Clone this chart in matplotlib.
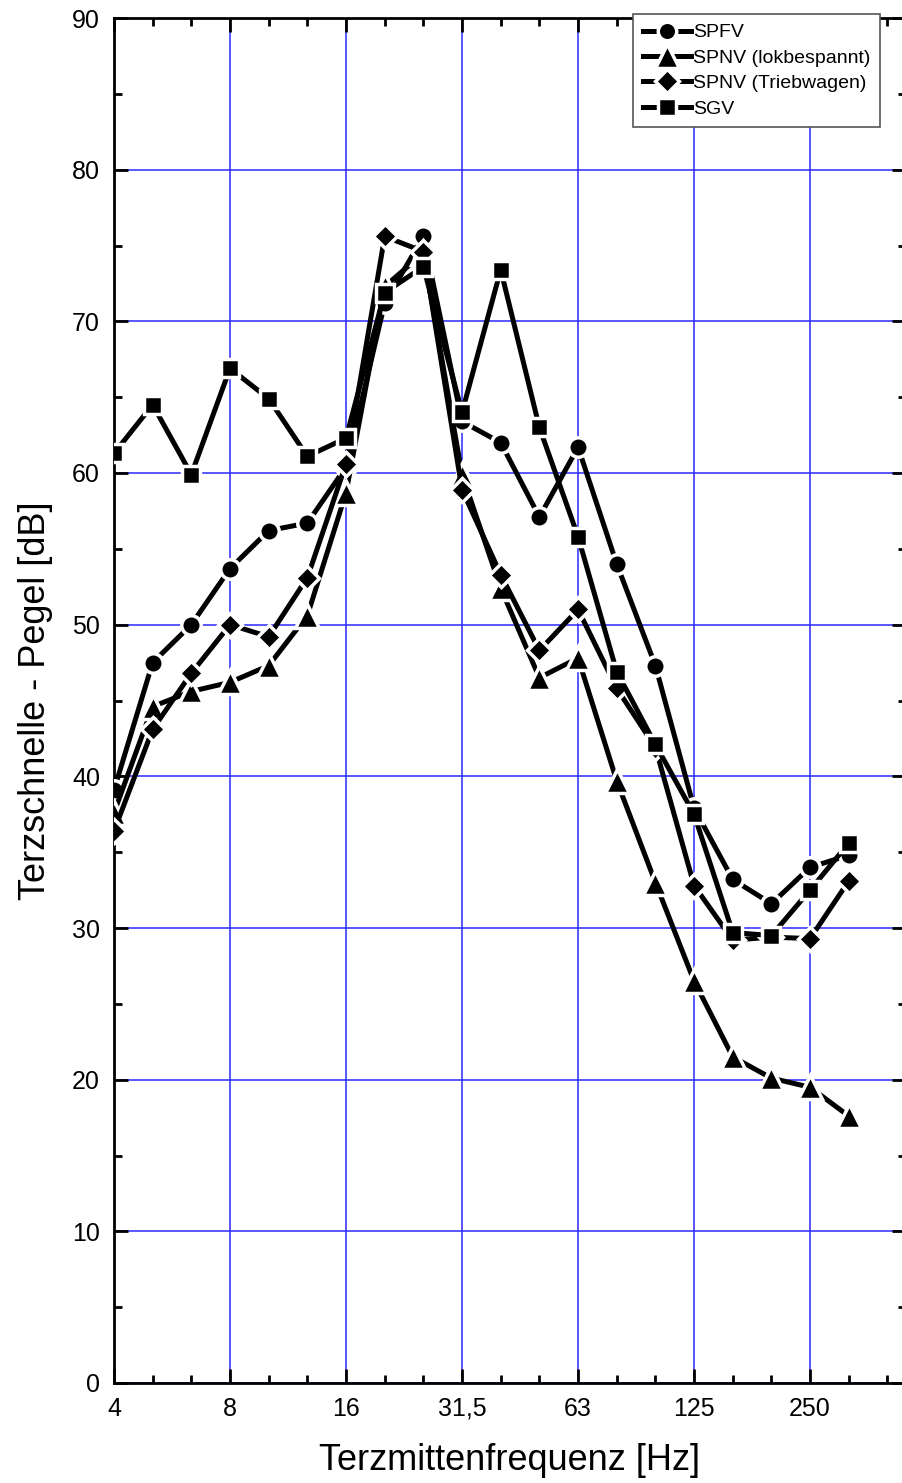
import matplotlib
matplotlib.use('Agg')
import matplotlib.pyplot as plt
from matplotlib.ticker import FixedLocator, MultipleLocator, NullFormatter

plt.rcParams['font.family'] = ['Liberation Sans', 'DejaVu Sans']

# third-octave bands 4 Hz ... 315 Hz
bands = ['4', '5', '6,3', '8', '10', '12,5', '16', '20', '25', '31,5',
         '40', '50', '63', '80', '100', '125', '160', '200', '250', '315']
labelled_bands = ['4', '8', '16', '31,5', '63', '125', '250']

spfv = [39.1, 47.5, 50.0, 53.7, 56.2, 56.7, 60.4, 71.2, 75.6, 63.4,
        62.0, 57.1, 61.7, 54.0, 47.3, 37.9, 33.2, 31.6, 34.0, 34.8]
spnv_lok = [37.6, 44.6, 45.6, 46.2, 47.3, 50.6, 58.7, 72.3, 74.5, 59.9,
            52.4, 46.5, 47.8, 39.7, 33.0, 26.5, 21.5, 20.1, 19.5, 17.6]
spnv_tw = [36.4, 43.1, 46.8, 50.0, 49.2, 53.1, 60.6, 75.6, 74.6, 58.9,
           53.3, 48.3, 51.0, 45.8, 41.9, 32.8, 29.2, 29.4, 29.3, 33.1]
sgv = [61.3, 64.5, 59.9, 66.9, 64.9, 61.1, 62.3, 71.9, 73.6, 64.0,
       73.4, 63.0, 55.8, 46.9, 42.1, 37.5, 29.7, 29.5, 32.5, 35.6]

series = [
    ('SPFV', spfv, 'o', 14),
    ('SPNV (lokbespannt)', spnv_lok, '^', 17.5),
    ('SPNV (Triebwagen)', spnv_tw, 'D', 12.5),
    ('SGV', sgv, 's', 13),
]

fig = plt.figure(figsize=(9.02, 14.83), dpi=100)
ax = fig.add_axes([114 / 902, 1 - 1383 / 1483, 792 / 902, 1365 / 1483])

x = list(range(len(bands)))
for name, vals, marker, ms in series:
    ax.plot(x, vals, color='black', lw=3.6, marker=marker, ms=ms,
            mfc='black', mec='white', mew=2.5, label=name, zorder=3)

ax.set_xlim(0, 20.48)
ax.set_ylim(0, 90)

major_idx = [bands.index(b) for b in labelled_bands]
ax.xaxis.set_major_locator(FixedLocator(major_idx))
ax.set_xticklabels(labelled_bands)
ax.xaxis.set_minor_locator(FixedLocator([i for i in range(21) if i not in major_idx]))
ax.yaxis.set_major_locator(MultipleLocator(10))
ax.yaxis.set_minor_locator(MultipleLocator(5))
ax.xaxis.set_minor_formatter(NullFormatter())

ax.tick_params(which='both', direction='in', top=True, right=True,
               labelsize=18, width=2, color='black')
ax.tick_params(which='major', length=10)
ax.tick_params(which='minor', length=6)
ax.tick_params(axis='x', pad=10)
ax.tick_params(axis='y', pad=10)

ax.grid(True, which='major', color='#2a2aff', lw=1.1, zorder=1)

for sp in ax.spines.values():
    sp.set_linewidth(2)
    sp.set_color('black')

ax.set_xlabel('Terzmittenfrequenz [Hz]', fontsize=26, labelpad=16)
ax.set_ylabel('Terzschnelle - Pegel [dB]', fontsize=26, labelpad=14)

leg = ax.legend(loc='upper left', bbox_to_anchor=(633 / 902, 1 - 14 / 1483),
                bbox_transform=fig.transFigure, fontsize=14, frameon=True,
                fancybox=False, shadow=False, borderpad=0.5, labelspacing=0.4,
                handlelength=2.5, handletextpad=0.1, borderaxespad=0,
                markerscale=0.95)
leg.get_frame().set_edgecolor('#555555')
leg.get_frame().set_linewidth(1.2)
leg.get_frame().set_alpha(1)
leg.set_zorder(5)

fig.savefig('out.png', dpi=100)
